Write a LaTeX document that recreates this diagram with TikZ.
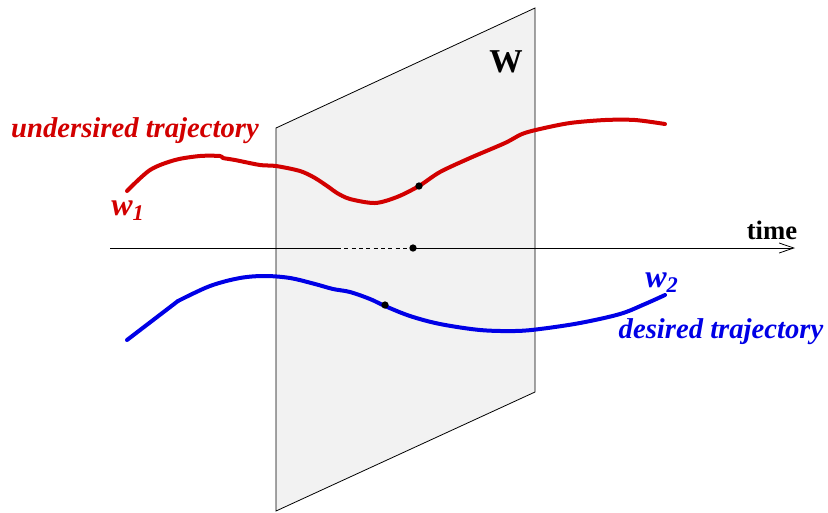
\documentclass[tikz,border=0pt]{standalone}
\usepackage{fontspec}
\setmainfont{Liberation Serif}
\usetikzlibrary{arrows.meta}
\definecolor{trajred}{RGB}{210,0,0}
\definecolor{trajblue}{RGB}{0,0,230}
\definecolor{planegray}{RGB}{242,242,242}
\tikzset{
  traj/.style={line width=3pt, line cap=round, line join=round},
  lbl/.style={inner sep=0pt, font=\fontsize{21.5}{24}\selectfont\bfseries\itshape},
  wlbl/.style={inner sep=0pt, font=\fontsize{24}{28}\selectfont\bfseries\itshape},
  dotmark/.style={circle, fill=black, inner sep=0pt, minimum size=5.5pt},
}
\begin{document}
\begin{tikzpicture}[x=0.75pt, y=-0.75pt]
\useasboundingbox (0,0) rectangle (828,512);
% plane
\draw[fill=planegray, line width=0.6pt] (276,128) -- (535,8) -- (535,392) -- (276,511) -- cycle;
% time axis
\coordinate (ax0) at (110,248);
\coordinate (axd) at (337,248);
\coordinate (ax1) at (795,248);
\node[dotmark] (tdot) at (413,248) {};
\draw[line width=0.6pt] (ax0) -- (axd);
\draw[line width=0.6pt, dashed, dash pattern=on 3pt off 2.5pt] (axd) -- (tdot.center);
\draw[line width=0.6pt, -{Straight Barb[length=11pt,width=7.5pt]}] (tdot.center) -- (ax1);
% red trajectory
\draw[traj, trajred] plot[smooth, tension=0.5] coordinates {
 (127,191) (150,170) (175,160) (200,156) (220,156) (223,158) (235,160) (260,165) (276,166)
 (300,171) (315,178) (330,188) (337,193) (350,199) (375,203) (397,197) (419,186)
 (440,172) (470,158) (505,143) (522,134) (540,129) (570,123) (605,120) (635,120) (665,124)};
% blue trajectory
\draw[traj, trajblue] (127,340) -- (178,301);
\draw[traj, trajblue] plot[smooth, tension=0.55] coordinates {
 (178,301) (210,286) (240,278) (265,276) (290,278) (315,284) (333,289) (350,292)
 (370,299) (385,306) (410,316) (440,324) (480,330) (515,331) (540,329) (580,323) (620,314) (645,304) (665,295)};
\node[dotmark] (rdot) at (419,186) {};
\node[dotmark] (bdot) at (385,305) {};
% labels
\node[lbl, text=trajred] (undes) at (135,131) {undersired trajectory};
\node[wlbl, text=trajred] (w1) at (128,211) {w\textsubscript{1}};
\node[wlbl, text=trajblue] (w2) at (662,283) {w\textsubscript{2}};
\node[lbl, text=trajblue] (des) at (721,332) {desired trajectory};
\node[inner sep=0pt, font=\fontsize{25}{28}\selectfont\bfseries] (W) at (506,62) {W};
\node[inner sep=0pt, font=\fontsize{20}{24}\selectfont\bfseries] (time) at (772,230) {time};
\end{tikzpicture}
\end{document}
